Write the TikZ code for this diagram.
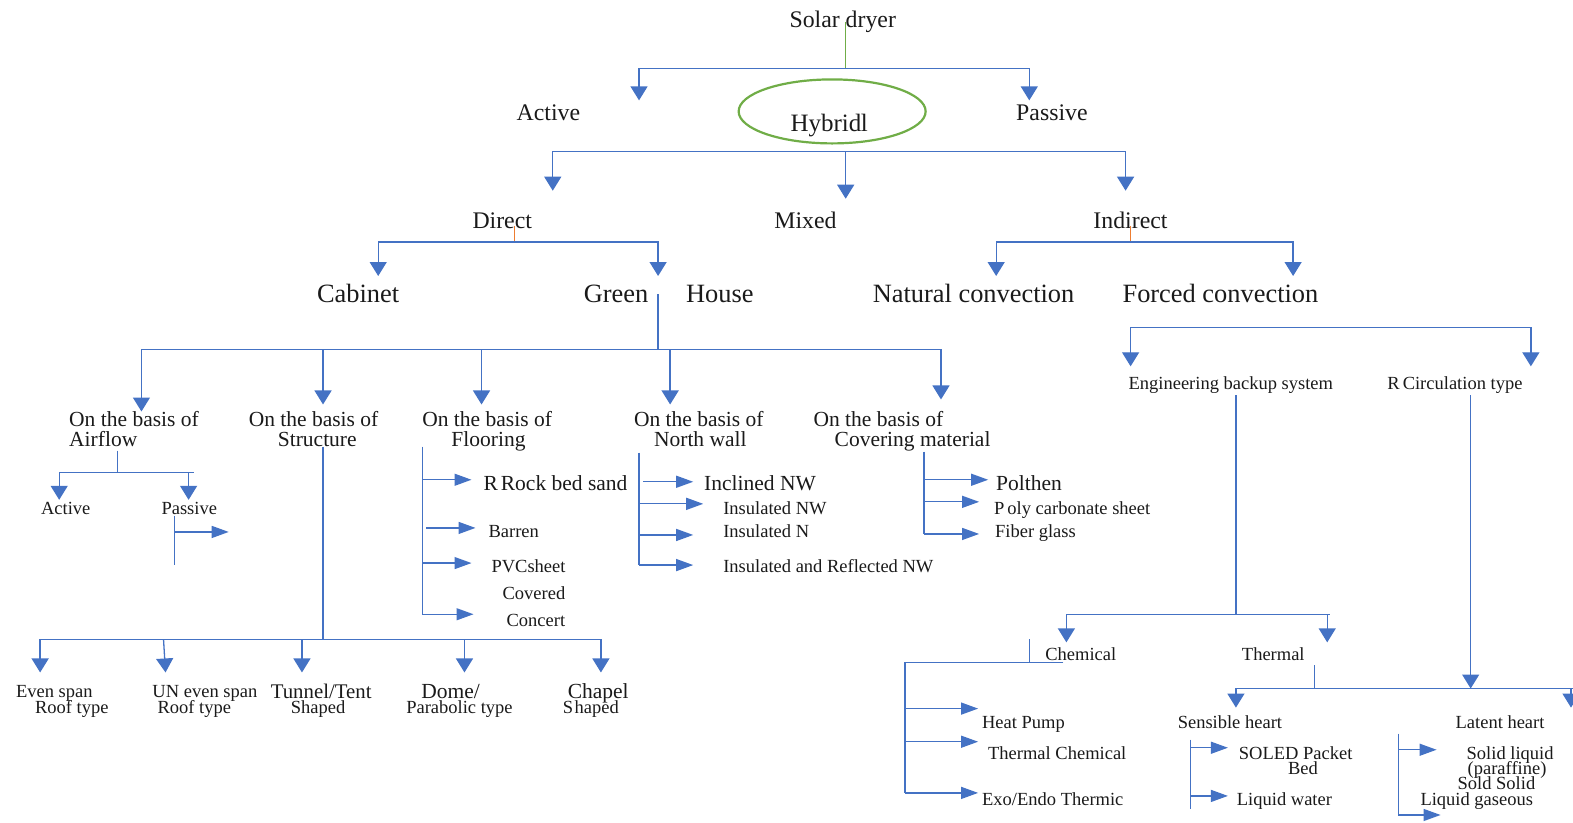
\documentclass[tikz,border=0pt]{standalone}
\usepackage{fontspec}
\setmainfont{Liberation Serif}
\usetikzlibrary{arrows.meta,shapes.geometric}
\definecolor{blu}{HTML}{4472C4}
\definecolor{grn}{HTML}{70AD47}
\definecolor{org}{HTML}{ED7D31}
\definecolor{ink}{HTML}{1A1A1A}
\newcommand{\FS}[1]{\fontsize{#1}{#1}\selectfont}
\tikzset{
  bl/.style={draw=blu, line width=1.3pt},
  dn/.style={bl, -{Triangle[width=17pt,length=14pt]}},
  rt/.style={bl, -{Triangle[width=12pt,length=17pt]}},
  lb/.style={anchor=base west, inner sep=0pt, outer sep=0pt, text=ink},
  sA/.style={lb, font=\FS{18.5}},
  sB/.style={lb, font=\FS{21.5}},
  sC/.style={lb, font=\FS{23.8}},
  sD/.style={lb, font=\FS{26.4}},
}
\begin{document}
\begin{tikzpicture}[x=1.0032pt,y=-1.0037pt]
\useasboundingbox (0,0) rectangle (1568,819);

% ---- top level
\node[sC] (solar) at (787,27) {Solar dryer};
\node[sC] (act) at (515,120) {Active};
\node[sC] (pas) at (1013,120) {Passive};
\node[draw=grn, line width=2.2pt, ellipse, minimum width=187pt, minimum height=64pt, inner sep=0pt] (hyb) at (829.5,111) {};
\node[lb, font=\FS{25}] (hybt) at (788,131) {Hybrid\kern-0.5pt l};
\coordinate (j0) at (843,68);
\draw[grn, line width=1.2pt] (843,22) -- (j0);
\draw[dn] (j0) -| (637,100);
\draw[dn] (j0) -| (1026,100);

\coordinate (j1) at (843,151);
\draw[dn] (j1) -| (551,190);
\draw[dn] (j1) -| (1122,190);
\draw[dn] (j1) -- (843,198);

% ---- second level
\node[sC] (dir) at (471,228) {Direct};
\node[sC] (mix) at (772,228) {Mixed};
\node[sC] (ind) at (1090,228) {Indirect};
\coordinate (j2) at (513,241);
\coordinate (j3) at (1127,241);
\draw[org, line width=1pt] (513,225) -- (j2);
\draw[org, line width=1pt] (1127,225) -- (j3);
\draw[dn] (j2) -| (377,275);
\draw[dn] (j2) -| (656,275);
\draw[dn] (j3) -| (993,275);
\draw[dn] (j3) -| (1289,275);

% ---- third level
\node[sD] (cab) at (316,301) {Cabinet};
\node[sD] (gre) at (582,301) {Green};
\node[sD] (hou) at (684,301) {House};
\node[sD] (nat) at (870,301) {Natural convection};
\node[sD] (forc) at (1119,301) {Forced convection};

\coordinate (j4) at (656,348);
\draw[bl] (656,293) -- (j4);
\draw[dn] (j4) -| (141,410);
\draw[dn] (j4) -| (322,403);
\draw[dn] (j4) -| (480,403);
\draw[dn] (j4) -| (668,403);
\draw[dn] (j4) -| (938,398);

% ---- basis labels
\node[sB] (b1a) at (69,425) {On the basis of};
\node[sB] (b1b) at (69,445) {Airflow};
\node[sB] (b2a) at (248,425) {On the basis of};
\node[sB] (b2b) at (277,445) {Structure};
\node[sB] (b3a) at (421,425) {On the basis of};
\node[sB] (b3b) at (450,445) {Flooring};
\node[sB] (b4a) at (632,425) {On the basis of};
\node[sB] (b4b) at (652,445) {North wall};
\node[sB] (b5a) at (811,425) {On the basis of};
\node[sB] (b5b) at (832,445) {Covering material};

% ---- airflow
\coordinate (j5) at (117,471);
\draw[bl] (117,449) -- (j5);
\draw[dn] (j5) -| (59,498);
\draw[dn] (j5) -| (188,498);
\draw[bl] (188,471) -- (193,471);
\node[sA] (aact) at (41,513) {Active};
\node[sA] (apas) at (161,513) {Passive};
\draw[bl] (174,514) -- (174,563);
\draw[rt] (174,530) -- (228,530);

% ---- structure
\coordinate (j6) at (322,637);
\draw[bl] (322,445) -- (j6);
\draw[dn] (j6) -| (40,670);
\draw[dn] (j6) -| (599,670);
\draw[dn] (163,637) -- (165,670);
\draw[dn] (301,637) -- (301,670);
\draw[dn] (463,637) -- (463,670);
\node[sA] (s1a) at (16,695) {Even span};
\node[sA] (s1b) at (35,711) {Roof type};
\node[sA] (s2a) at (152,695) {UN even span};
\node[sA] (s2b) at (157,711) {Roof type};
\node[lb, font=\FS{20.8}] (s3a) at (270,696) {Tunnel/Tent};
\node[sA] (s3b) at (290,711) {Shaped};
\node[sB] (s4a) at (420,696) {Dome/};
\node[sA] (s4b) at (405,711) {Parabolic type};
\node[sB] (s5a) at (566,696) {Chapel};
\node[sA] (s5b) at (561,711) {S\kern1.5pt haped};

% ---- flooring
\draw[bl] (421,445) -- (421,613);
\draw[rt] (421,478) -- (470,478);
\draw[rt] (425,526) -- (474,526);
\draw[rt] (421,561) -- (470,561);
\draw[rt] (421,612) -- (472,612);
\node[sB] (f1) at (482,489) {R\kern3pt Rock bed sand};
\node[sA] (f2) at (487,536) {Barren};
\node[sA] (f3) at (490,570) {PVCsheet};
\node[sA] (f4) at (501,597) {Covered};
\node[sA] (f5) at (505,624) {Concert};

% ---- north wall
\draw[bl] (637,451) -- (637,563);
\draw[rt] (641,480) -- (691,480);
\draw[rt] (637,502) -- (701,502);
\draw[rt] (637,533) -- (691,533);
\draw[rt] (637,563) -- (691,563);
\node[sB] (n1) at (702,489) {Inclined NW};
\node[sA] (n2) at (721,513) {Insulated NW};
\node[sA] (n3) at (721,536) {Insulated N};
\node[sA] (n4) at (721,570) {Insulated and Reflected NW};

% ---- covering
\draw[bl] (921,450) -- (921,532);
\draw[rt] (921,478) -- (985,478);
\draw[rt] (921,500) -- (976,500);
\draw[rt] (921,532) -- (976,532);
\node[sB] (c1) at (993,489) {Polthen};
\node[sA] (c2) at (991,513) {P\kern3pt oly carbonate sheet};
\node[sA] (c3) at (992,536) {Fiber glass};

% ---- forced convection
\coordinate (j7) at (1326,326);
\draw[dn] (j7) -| (1127,365);
\draw[dn] (j7) -| (1526,365);
\node[sA] (e1) at (1125,388) {Engineering backup system};
\node[sA] (e2) at (1383,388) {R\kern3pt Circulation type};

\coordinate (j8) at (1232,612);
\draw[bl] (1232,394) -- (j8);
\draw[dn] (j8) -| (1063,640);
\draw[dn] (j8) -| (1323,640);
\draw[bl] (1323,612) -- (1326,612);
\draw[dn] (1466,394) -- (1466,686);

\node[sA] (che) at (1042,658) {Chemical};
\node[sA] (the) at (1238,658) {Thermal};

% chemical
\draw[bl] (1026,637) -- (1026,660);
\draw[bl] (1060,660) -- (902,660) -- (902,790);
\draw[rt] (902,706) -- (975,706);
\draw[rt] (902,739) -- (975,739);
\draw[rt] (902,790) -- (975,790);
\node[sA] (h1) at (979,726) {Heat Pump};
\node[sA] (h2) at (985,757) {Thermal Chemical};
\node[sA] (h3) at (979,803) {Exo/Endo Thermic};

% thermal
\coordinate (j9) at (1310,686);
\draw[bl] (1310,663) -- (j9);
\draw[bl] (1232,686) -- (1568,686);
\draw[dn] (j9) -| (1232,705);
\draw[dn] (j9) -| (1566,705);
\node[sA] (t1) at (1174,726) {Sensible heart};
\node[sA] (t2) at (1451,726) {Latent heart};

% sensible
\draw[bl] (1187,737) -- (1187,806);
\draw[rt] (1187,745) -- (1224,745);
\draw[rt] (1187,793) -- (1224,793);
\node[sA] (p1) at (1235,757) {SOLED Packet};
\node[sA] (p2) at (1284,772) {Bed};
\node[sA] (p3) at (1233,803) {Liquid water};

% latent
\draw[bl] (1394,731) -- (1394,812);
\draw[rt] (1394,747) -- (1432,747);
\draw[rt] (1394,812) -- (1436,812);
\node[sA] (l1) at (1462,757) {Solid liquid};
\node[sA] (l2) at (1463,772) {(paraffine)};
\node[sA] (l3) at (1453,787) {Sold Solid};
\node[sA] (l4) at (1416,803) {Liquid gaseous};
\end{tikzpicture}
\end{document}
